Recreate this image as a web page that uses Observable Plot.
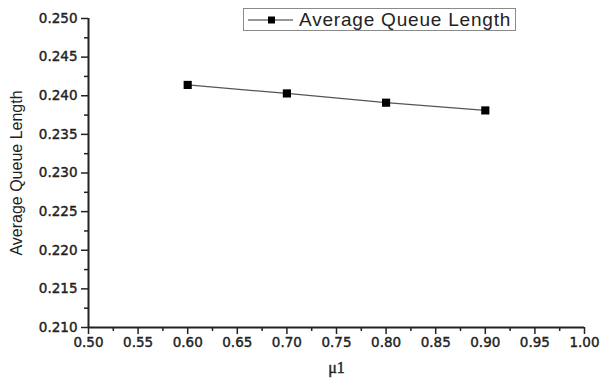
<!DOCTYPE html>
<html>
<head>
<meta charset="utf-8">
<script src="https://cdn.jsdelivr.net/npm/d3@7"></script>
<script src="https://cdn.jsdelivr.net/npm/@observablehq/plot@0.6"></script>
<style>
  html, body { margin: 0; padding: 0; background: #fff; }
  #wrap { position: relative; width: 601px; height: 381px; }
  #legend {
    position: absolute; left: 243px; top: 8px; width: 271px; height: 21px;
    border: 1.5px solid #8a8a8a; background: #fff;
    font-family: "Liberation Sans", Arial, sans-serif; font-size: 19px; color: #222;
    display: flex; align-items: center; box-sizing: content-box;
  }
  #legend svg { margin-left: 3px; }
  #legend span { margin-left: 6px; letter-spacing: 0.8px; white-space: nowrap; }
  g[aria-label$="tick label"] text { stroke: #222; stroke-width: 0.4px; }
</style>
</head>
<body>
<div id="wrap"></div>
<script>
// Data
const mu = [0.6, 0.7, 0.8, 0.9];
const queueLength = [0.2414, 0.2403, 0.2391, 0.2381];
const seriesName = "Average Queue Length";

// Tick values
const xTicks = [0.50, 0.55, 0.60, 0.65, 0.70, 0.75, 0.80, 0.85, 0.90, 0.95, 1.00];
const xMinorTicks = [0.525, 0.575, 0.625, 0.675, 0.725, 0.775, 0.825, 0.875, 0.925, 0.975];
const yTicks = [0.210, 0.215, 0.220, 0.225, 0.230, 0.235, 0.240, 0.245, 0.250];
const yMinorTicks = [0.2125, 0.2175, 0.2225, 0.2275, 0.2325, 0.2375, 0.2425, 0.2475];
const xLabel = "\u03bc1";
const yLabel = "Average Queue Length";

const data = mu.map((m, i) => ({mu: m, q: queueLength[i]}));

const tickFont = {fontFamily: "DejaVu Sans, sans-serif", fontSize: 13.5, fill: "#222"};

const chart = Plot.plot({
  width: 601,
  height: 381,
  marginLeft: 88,
  marginRight: 17,
  marginTop: 18,
  marginBottom: 54,
  style: {background: "#fff", overflow: "visible"},
  x: {domain: [0.5, 1.0], label: null},
  y: {domain: [0.21, 0.25], label: null},
  marks: [
    Plot.axisX({ticks: xMinorTicks, tickSize: 4, text: null, label: null, stroke: "#222", strokeWidth: 1.5}),
    Plot.axisY({ticks: yMinorTicks, tickSize: 4, text: null, label: null, stroke: "#222", strokeWidth: 1.5}),
    Plot.axisX({ticks: xTicks, tickSize: 7, tickPadding: 3, tickFormat: d3.format(".2f"),
      stroke: "#222", strokeWidth: 1.5, label: null, ...tickFont, style: "letter-spacing:0.5px"}),
    Plot.axisY({ticks: yTicks, tickSize: 7, tickPadding: 4, tickFormat: d3.format(".3f"),
      stroke: "#222", strokeWidth: 1.5, label: null, ...tickFont, style: "letter-spacing:1px"}),
    Plot.ruleY([0.21], {stroke: "#222", strokeWidth: 2}),
    Plot.ruleX([0.5], {stroke: "#222", strokeWidth: 2}),
    Plot.line(data, {x: "mu", y: "q", stroke: "#555", strokeWidth: 1.2}),
    Plot.dot(data, {x: "mu", y: "q", symbol: "square", r: 4.6, fill: "#000", stroke: "none"}),
    Plot.text([xLabel], {frameAnchor: "bottom", dy: 45, fontFamily: "Liberation Serif, serif", fontSize: 16, fill: "#222", stroke: "#222", strokeWidth: 0.4, style: "letter-spacing:1px"}),
    Plot.text([yLabel], {frameAnchor: "left", textAnchor: "middle", dx: -72, rotate: -90, fontFamily: "Liberation Sans, Arial, sans-serif", fontSize: 16, fill: "#222"})
  ]
});

const wrap = document.getElementById("wrap");
wrap.appendChild(chart);

const legend = document.createElement("div");
legend.id = "legend";
legend.innerHTML = `<svg width="46" height="21"><line x1="1" y1="11" x2="46" y2="11" stroke="#333" stroke-width="1.2"/><rect x="21" y="7.5" width="7" height="7" fill="#000"/></svg><span></span>`;
legend.querySelector("span").textContent = seriesName;
wrap.appendChild(legend);
</script>
</body>
</html>
